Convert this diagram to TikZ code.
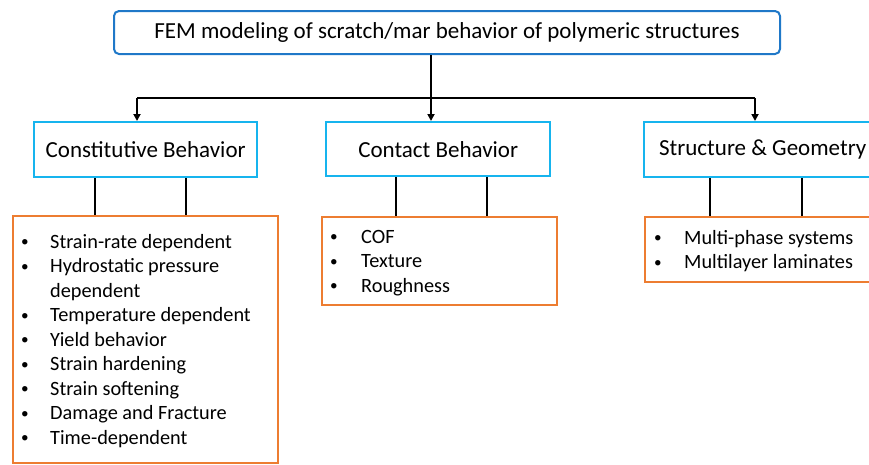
\documentclass[tikz,border=0pt]{standalone}
\usepackage{fontspec}
\setmainfont{Carlito}
\usetikzlibrary{arrows.meta}
\definecolor{topblue}{HTML}{1F78C8}
\definecolor{cyanb}{HTML}{16B4EE}
\definecolor{orangeb}{HTML}{ED7D31}
\newcommand{\bul}{\raisebox{0.15ex}{\scalebox{0.75}{\textbullet}}}
\begin{document}
\begin{tikzpicture}[x=1pt,y=-1pt,
  topbox/.style={draw=topblue,line width=2pt,rounded corners=5pt,anchor=north west,inner sep=0pt,font=\fontsize{23}{27}\selectfont},
  catbox/.style={draw=cyanb,line width=2.4pt,anchor=north west,inner sep=0pt,font=\fontsize{23}{27}\selectfont},
  listbox/.style={draw=orangeb,line width=2.4pt,anchor=north west,inner sep=0pt},
  listtext/.style={anchor=north west,inner sep=0pt,align=left,font=\fontsize{20.3}{24.5}\selectfont},
  conn/.style={line width=2pt},
  arr/.style={line width=2pt,-{Triangle[length=7pt,width=7pt]}}]
\useasboundingbox (0,0) rectangle (869,464);
\begin{scope}
\clip (0,0) rectangle (869,464);
\node[topbox,minimum width=666,minimum height=43] (top) at (113,10) {FEM modeling of scratch/mar behavior of polymeric structures};
\node[catbox,minimum width=223,minimum height=55] (cb) at (33,121) {Constitutive Behavior};
\node[catbox,minimum width=224,minimum height=54] (ct) at (325,121) {Contact Behavior};
\node[catbox,minimum width=237,minimum height=55] (sg) at (643,121) {Structure \& Geometry};
\node[listbox,minimum width=265,minimum height=247] (l1) at (12,215) {};
\node[listbox,minimum width=235,minimum height=88] (l2) at (321,216) {};
\node[listbox,minimum width=240,minimum height=65] (l3) at (644,216) {};
\node[listtext] (t1) at (21,231) {%
\begin{tabular}{@{}p{29pt}@{}l@{}}
\bul & Strain-rate dependent\\
\bul & Hydrostatic pressure\\
 & dependent\\
\bul & Temperature dependent\\
\bul & Yield behavior\\
\bul & Strain hardening\\
\bul & Strain softening\\
\bul & Damage and Fracture\\
\bul & Time-dependent
\end{tabular}};
\node[listtext] (t2) at (330,226) {%
\begin{tabular}{@{}p{31pt}@{}l@{}}
\bul & COF\\
\bul & Texture\\
\bul & Roughness
\end{tabular}};
\node[listtext] (t3) at (654,227) {%
\begin{tabular}{@{}p{30pt}@{}l@{}}
\bul & Multi-phase systems\\
\bul & Multilayer laminates
\end{tabular}};
\end{scope}
\coordinate (hub) at (431,98);
\coordinate (hl) at (137,98);
\coordinate (hr) at (755,98);
\draw[conn] (top.south -| hub) -- (hub);
\draw[conn] (hl) -- (hr);
\draw[arr] (hl) -- (hl |- cb.north);
\draw[arr] (hub) -- (hub |- ct.north);
\draw[arr] (hr) -- (hr |- sg.north);
\foreach \a/\b/\x in {cb/l1/95,cb/l1/186,ct/l2/396,ct/l2/487,sg/l3/710,sg/l3/802}
  \draw[conn] (\a.south -| \x,0) -- (\b.north -| \x,0);
\end{tikzpicture}
\end{document}
